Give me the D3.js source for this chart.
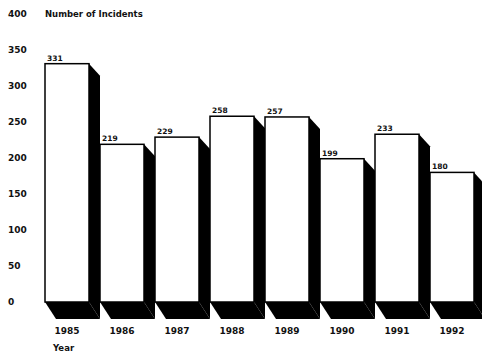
<!DOCTYPE html>
<html>
<head>
<meta charset="utf-8">
<script src="https://cdn.jsdelivr.net/npm/d3@7"></script>
<style>
  body { margin: 0; background: #fff; }
  text { font-family: "DejaVu Sans", sans-serif; font-weight: bold; fill: #111; }
</style>
</head>
<body>
<div id="chart"></div>
<script>
const years = ['1985', '1986', '1987', '1988', '1989', '1990', '1991', '1992'];
const incidents = [331, 219, 229, 258, 257, 199, 233, 180];
const yTicks = [0, 50, 100, 150, 200, 250, 300, 350, 400];

const W = 482, H = 355;
const depthX = 11, depthTop = 12, depthBottom = 17;

const svg = d3.select('#chart')
    .append('svg')
    .attr('width', W)
    .attr('height', H);

// band step 55, front face 44, gap filled by the side
const x = d3.scaleBand()
    .domain(years)
    .range([45, 474])
    .paddingInner(0.2)
    .paddingOuter(0);

const y = d3.scaleLinear()
    .domain([0, 400])
    .range([302, 14]);

// y tick labels (no axis line in the original)
svg.append('g')
    .selectAll('text')
    .data(yTicks)
    .enter().append('text')
    .attr('x', 8)
    .attr('y', d => y(d))
    .attr('dy', '0.35em')
    .style('font-size', '9px')
    .text(d => d);

svg.append('text')
    .attr('x', 45)
    .attr('y', y(400))
    .attr('dy', '0.35em')
    .style('font-size', '8.5px')
    .text('Number of Incidents');

const bars = svg.append('g')
    .selectAll('g')
    .data(years.map((yr, i) => ({year: yr, value: incidents[i]})))
    .enter().append('g');

const w = x.bandwidth();

// floor shadow
bars.append('polygon')
    .attr('fill', '#000')
    .attr('points', d => {
        const x0 = x(d.year), x1 = x0 + w, y0 = y(0);
        return [[x0, y0], [x1, y0], [x1 + depthX, y0 + depthBottom], [x0 + depthX, y0 + depthBottom]].join(' ');
    });

// right side
bars.append('polygon')
    .attr('fill', '#000')
    .attr('points', d => {
        const x1 = x(d.year) + w, yt = y(d.value), y0 = y(0);
        return [[x1, yt], [x1 + depthX, yt + depthTop], [x1 + depthX, y0 + depthBottom], [x1, y0]].join(' ');
    });

// front face
bars.append('rect')
    .attr('x', d => x(d.year))
    .attr('y', d => y(d.value))
    .attr('width', w)
    .attr('height', d => y(0) - y(d.value))
    .attr('fill', '#fff')
    .attr('stroke', '#000')
    .attr('stroke-width', 1.5);

bars.append('text')
    .attr('x', d => x(d.year) + 2)
    .attr('y', d => y(d.value) - 3)
    .style('font-size', '7.5px')
    .text(d => d.value);

svg.append('g')
    .selectAll('text')
    .data(years)
    .enter().append('text')
    .attr('x', d => x(d) + w / 2)
    .attr('y', 334)
    .attr('text-anchor', 'middle')
    .style('font-size', '9px')
    .text(d => d);

svg.append('text')
    .attr('x', 53)
    .attr('y', 351)
    .style('font-size', '8.5px')
    .text('Year');
</script>
</body>
</html>
